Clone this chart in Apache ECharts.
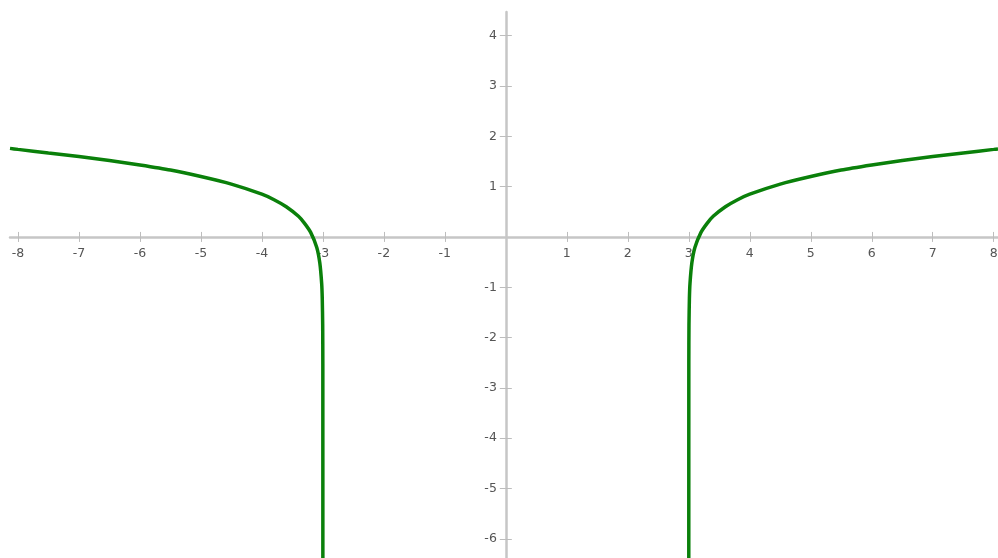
<!DOCTYPE html>
<html>
<head>
<meta charset="utf-8">
<script src="https://cdn.jsdelivr.net/npm/echarts@6/dist/echarts.min.js"></script>
<style>
  html, body { margin: 0; padding: 0; background: #fff; }
  #chart { width: 998px; height: 558px; }
</style>
</head>
<body>
<div id="chart"></div>
<script>
// tick labels shown on each axis (0 is left out, as in the picture)
const xTicks = [-8, -7, -6, -5, -4, -3, -2, -1, 1, 2, 3, 4, 5, 6, 7, 8];
const yTicks = [-6, -5, -4, -3, -2, -1, 1, 2, 3, 4];

// right branch
const rightX = [3.0000001, 3.0005, 3.003, 3.01, 3.02, 3.05, 3.1, 3.2, 3.3, 3.4, 3.6, 3.8, 4, 4.5, 5, 5.5, 6, 6.5, 7, 7.5, 8, 8.07];
const rightY = [-6.5, -2.52, -1.74, -1.22, -0.92, -0.52, -0.21, 0.09, 0.27, 0.41, 0.6, 0.74, 0.85, 1.05, 1.2, 1.33, 1.43, 1.52, 1.6, 1.67, 1.74, 1.75];

// left branch
const leftX = [-8.13, -8, -7.5, -7, -6.5, -6, -5.5, -5, -4.5, -4, -3.8, -3.6, -3.4, -3.3, -3.2, -3.1, -3.05, -3.02, -3.01, -3.003, -3.0005, -3.0000001];
const leftY = [1.76, 1.74, 1.67, 1.6, 1.52, 1.43, 1.33, 1.2, 1.05, 0.85, 0.74, 0.6, 0.41, 0.27, 0.09, -0.21, -0.52, -0.92, -1.22, -1.74, -2.52, -6.5];

const pairs = (xs, ys) => xs.map((x, i) => [x, ys[i]]);

const X_MIN = -8.13, X_MAX = 8.07;
const Y_MIN = -6.38, Y_MAX = 4.47;

const axisGray = '#c6c6c6';
const labelGray = '#555';
const curveGreen = '#0a800a';

const tickStyle = { color: '#bdbdbd', width: 1 };
const labelStyle = { color: labelGray, fontFamily: 'DejaVu Sans', fontSize: 12.5 };

// the second axis of each pair only draws the other half of the tick marks
const chart = echarts.init(document.getElementById('chart'));
chart.setOption({
  animation: false,
  grid: { left: 10, right: 0, top: 12, bottom: 0, containLabel: false, outerBoundsMode: 'none' },
  xAxis: [
    {
      type: 'value',
      min: X_MIN,
      max: X_MAX,
      position: 'bottom',
      axisLine: { onZero: false, lineStyle: { color: axisGray, width: 2.5 } },
      axisTick: { show: true, inside: true, length: 5, customValues: xTicks, lineStyle: tickStyle },
      axisLabel: { customValues: xTicks, margin: 10, ...labelStyle },
      splitLine: { show: false }
    },
    {
      type: 'value',
      min: X_MIN,
      max: X_MAX,
      position: 'top',
      axisLine: { show: false, onZero: false },
      axisTick: { show: true, inside: true, length: 5, customValues: xTicks, lineStyle: tickStyle },
      axisLabel: { show: false },
      splitLine: { show: false }
    }
  ],
  yAxis: [
    {
      type: 'value',
      min: Y_MIN,
      max: Y_MAX,
      position: 'left',
      axisLine: { onZero: false, lineStyle: { color: axisGray, width: 2.5 } },
      axisTick: { show: true, inside: true, length: 6, customValues: yTicks, lineStyle: tickStyle },
      axisLabel: { customValues: yTicks, margin: 9, ...labelStyle },
      splitLine: { show: false }
    },
    {
      type: 'value',
      min: Y_MIN,
      max: Y_MAX,
      position: 'right',
      axisLine: { show: false, onZero: false },
      axisTick: { show: true, inside: true, length: 6, customValues: yTicks, lineStyle: tickStyle },
      axisLabel: { show: false },
      splitLine: { show: false }
    }
  ],
  series: [
    {
      name: 'right',
      type: 'line',
      data: pairs(rightX, rightY),
      smooth: 0.2,
      showSymbol: false,
      lineStyle: { color: curveGreen, width: 3.5 }
    },
    {
      name: 'left',
      type: 'line',
      data: pairs(leftX, leftY),
      smooth: 0.2,
      showSymbol: false,
      lineStyle: { color: curveGreen, width: 3.5 }
    }
  ]
});

// move the axes so they cross at the origin, labels included
const origin = chart.convertToPixel({ gridIndex: 0 }, [0, 0]);
const rect = chart.getModel().getComponent('grid', 0).coordinateSystem.getRect();
chart.setOption({
  xAxis: [
    { offset: -(rect.y + rect.height - origin[1]) },
    { offset: -(origin[1] - rect.y) }
  ],
  yAxis: [
    { offset: -(origin[0] - rect.x) },
    { offset: -(rect.x + rect.width - origin[0]) }
  ]
});
</script>
</body>
</html>
